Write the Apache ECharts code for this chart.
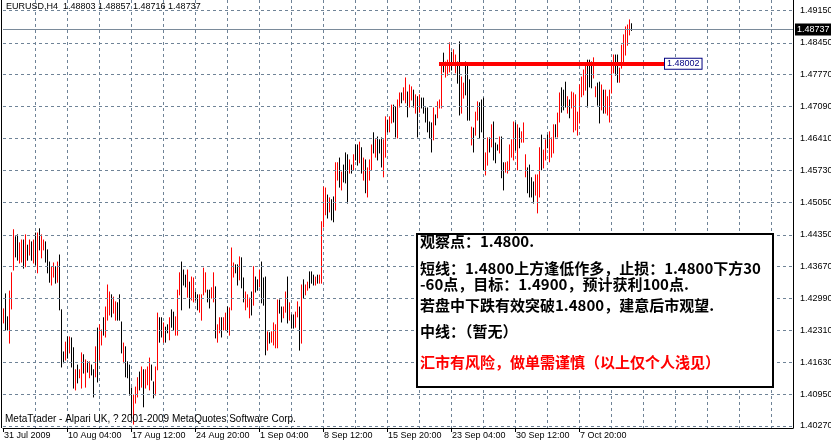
<!DOCTYPE html>
<html><head><meta charset="utf-8">
<script src="https://cdn.jsdelivr.net/npm/echarts@6/dist/echarts.min.js"></script>
<style>html,body{margin:0;padding:0;background:#fff}#c{width:831px;height:445px}</style>
</head><body><div id="c"></div>
<script>
// ---- data (EURUSD H4) ----
const highs = [
1.4277,1.4309,1.4260,1.4315,1.4354,1.4446,1.4431,1.4435,1.4418,1.4424,
1.4424,1.4435,1.4413,1.4424,1.4420,1.4424,1.4439,1.4439,1.4448,1.4435,
1.4424,1.4420,1.4403,1.4377,1.4367,1.4375,1.4367,1.4377,1.4392,1.4275,
1.4185,1.4206,1.4217,1.4217,1.4215,1.4194,1.4147,1.4157,1.4147,1.4183,
1.4179,1.4168,1.4164,1.4164,1.4157,1.4147,1.4196,1.4236,1.4243,1.4232,
1.4258,1.4281,1.4328,1.4313,1.4307,1.4302,1.4292,1.4290,1.4307,1.4249,
1.4204,1.4196,1.4164,1.4157,1.4108,1.4093,1.4110,1.4130,1.4142,1.4153,
1.4147,1.4147,1.4153,1.4172,1.4157,1.4121,1.4153,1.4268,1.4258,1.4258,
1.4247,1.4238,1.4243,1.4258,1.4275,1.4270,1.4260,1.4317,1.4354,1.4377,
1.4360,1.4349,1.4360,1.4334,1.4345,1.4343,1.4313,1.4307,1.4307,1.4307,
1.4364,1.4354,1.4317,1.4317,1.4322,1.4354,1.4324,1.4243,1.4258,1.4258,
1.4258,1.4268,1.4281,1.4279,1.4407,1.4375,1.4371,1.4371,1.4388,1.4386,
1.4343,1.4313,1.4307,1.4300,1.4313,1.4367,1.4345,1.4339,1.4360,1.4377,
1.4343,1.4345,1.4228,1.4226,1.4228,1.4247,1.4243,1.4296,1.4296,1.4281,
1.4281,1.4313,1.4345,1.4290,1.4264,1.4264,1.4270,1.4292,1.4281,1.4328,
1.4339,1.4328,1.4334,1.4356,1.4356,1.4349,1.4345,1.4349,1.4349,1.4463,
1.4537,1.4535,1.4520,1.4514,1.4510,1.4516,1.4589,1.4589,1.4599,1.4569,
1.4584,1.4610,1.4606,1.4595,1.4584,1.4606,1.4627,1.4627,1.4633,1.4621,
1.4599,1.4595,1.4578,1.4595,1.4627,1.4653,1.4638,1.4644,1.4638,1.4642,
1.4638,1.4687,1.4680,1.4687,1.4712,1.4712,1.4708,1.4723,1.4738,1.4738,
1.4749,1.4770,1.4740,1.4755,1.4751,1.4744,1.4734,1.4730,1.4734,1.4727,
1.4727,1.4706,1.4706,1.4676,1.4674,1.4706,1.4691,1.4719,1.4723,1.4802,
1.4823,1.4804,1.4808,1.4845,1.4825,1.4830,1.4819,1.4804,1.4847,1.4772,
1.4759,1.4804,1.4802,1.4766,1.4665,1.4663,1.4697,1.4719,1.4717,1.4723,
1.4727,1.4610,1.4642,1.4642,1.4670,1.4676,1.4631,1.4627,1.4644,1.4644,
1.4589,1.4589,1.4591,1.4627,1.4638,1.4676,1.4674,1.4670,1.4663,1.4655,
1.4674,1.4606,1.4578,1.4584,1.4557,1.4548,1.4563,1.4563,1.4621,1.4648,
1.4616,1.4638,1.4648,1.4655,1.4642,1.4670,1.4670,1.4695,1.4738,1.4749,
1.4744,1.4761,1.4730,1.4723,1.4740,1.4738,1.4734,1.4697,1.4755,1.4772,
1.4787,1.4798,1.4808,1.4808,1.4804,1.4813,1.4751,1.4759,1.4761,1.4755,
1.4744,1.4744,1.4730,1.4744,1.4798,1.4819,1.4819,1.4819,1.4791,1.4840,
1.4862,1.4879,1.4883,1.4894,1.48857
];
const lows = [
1.4247,1.4232,1.4232,1.4204,1.4277,1.4360,1.4388,1.4381,1.4375,1.4377,
1.4364,1.4367,1.4381,1.4392,1.4381,1.4375,1.4371,1.4354,1.4403,1.4386,
1.4403,1.4377,1.4354,1.4334,1.4328,1.4345,1.4332,1.4334,1.4275,1.4153,
1.4162,1.4168,1.4172,1.4183,1.4153,1.4108,1.4104,1.4119,1.4130,1.4108,
1.4140,1.4110,1.4142,1.4130,1.4136,1.4089,1.4132,1.4121,1.4168,1.4200,
1.4221,1.4217,1.4253,1.4264,1.4260,1.4268,1.4253,1.4253,1.4253,1.4183,
1.4162,1.4132,1.4130,1.4093,1.4044,1.4031,1.4076,1.4089,1.4104,1.4110,
1.4068,1.4108,1.4115,1.4104,1.4125,1.4087,1.4093,1.4147,1.4206,1.4217,
1.4206,1.4206,1.4226,1.4211,1.4238,1.4232,1.4221,1.4221,1.4307,1.4275,
1.4328,1.4324,1.4302,1.4279,1.4296,1.4292,1.4296,1.4275,1.4270,1.4253,
1.4307,1.4313,1.4292,1.4279,1.4300,1.4292,1.4215,1.4206,1.4226,1.4217,
1.4232,1.4232,1.4228,1.4221,1.4275,1.4345,1.4354,1.4328,1.4339,1.4322,
1.4292,1.4275,1.4281,1.4258,1.4264,1.4285,1.4313,1.4317,1.4324,1.4290,
1.4285,1.4179,1.4189,1.4204,1.4206,1.4200,1.4194,1.4194,1.4268,1.4249,
1.4258,1.4270,1.4247,1.4253,1.4236,1.4236,1.4238,1.4260,1.4189,1.4204,
1.4300,1.4307,1.4317,1.4322,1.4332,1.4328,1.4328,1.4332,1.4332,1.4332,
1.4452,1.4478,1.4471,1.4484,1.4467,1.4463,1.4488,1.4552,1.4537,1.4531,
1.4548,1.4546,1.4503,1.4567,1.4567,1.4574,1.4595,1.4584,1.4589,1.4567,
1.4552,1.4525,1.4516,1.4552,1.4574,1.4610,1.4601,1.4595,1.4610,1.4580,
1.4559,1.4601,1.4655,1.4655,1.4674,1.4676,1.4644,1.4642,1.4708,1.4717,
1.4723,1.4717,1.4687,1.4708,1.4723,1.4708,1.4695,1.4644,1.4697,1.4706,
1.4695,1.4676,1.4655,1.4642,1.4612,1.4638,1.4670,1.4685,1.4706,1.4706,
1.4783,1.4772,1.4776,1.4783,1.4787,1.4798,1.4781,1.4759,1.4691,1.4695,
1.4727,1.4734,1.4680,1.4680,1.4627,1.4612,1.4648,1.4680,1.4642,1.4655,
1.4574,1.4563,1.4584,1.4612,1.4623,1.4595,1.4589,1.4616,1.4610,1.4557,
1.4531,1.4569,1.4567,1.4574,1.4601,1.4595,1.4616,1.4574,1.4621,1.4633,
1.4633,1.4559,1.4525,1.4516,1.4516,1.4503,1.4520,1.4482,1.4516,1.4574,
1.4578,1.4595,1.4621,1.4591,1.4601,1.4610,1.4644,1.4644,1.4676,1.4697,
1.4702,1.4708,1.4695,1.4685,1.4706,1.4655,1.4659,1.4648,1.4674,1.4730,
1.4734,1.4744,1.4708,1.4751,1.4749,1.4770,1.4730,1.4712,1.4674,1.4702,
1.4695,1.4695,1.4691,1.4676,1.4738,1.4781,1.4776,1.4761,1.4761,1.4791,
1.4804,1.4819,1.4840,1.4862,1.48716
];
// r = red (up) bar, k = black (down) bar
const barColours = ('rkkrrrkkrr' + 'krkrkrkrkr' + 'rkkkrrkrkk' + 'krkrkkrkrr' + 'krkrkkrkrr' +
  'krrrkrrkkk' + 'rkkkkrrrkr' + 'krrrkkrrkk' + 'rkkrkkrrrk' + 'kkrkrrkkrr' +
  'rrkkrrkrrk' + 'rrkrrrkkrk' + 'krrrkrkkrk' + 'kkrkrrrrkk' + 'rrkrkkrrkr' +
  'krrkkkrkrr' + 'rrkrkkrrkr' + 'kkkrkrkkrk' + 'rkrrrkrkkk' + 'rrkrrkkrrk' +
  'rrkrrkrkrk' + 'kkkkkrkrrr' + 'krrrkrrkkr' + 'rkkkrkrrkk' + 'krrkrkkkrk' +
  'krrrrrkrkr' + 'rrkkkkrrrk' + 'rrkrrrkrrk' + 'kkrkrrrrrr' + 'rrkkkrrkkr' +
  'krrrrrkkrr' + 'rrrrk').split('');
const yTickValues = [1.49150,1.48450,1.47770,1.47090,1.46410,1.45730,1.45050,1.44350,1.43670,1.42990,1.42310,1.41630,1.40950,1.40270];
const xTickLabels = ['31 Jul 2009','10 Aug 04:00','17 Aug 12:00','24 Aug 20:00','1 Sep 04:00','8 Sep 12:00','15 Sep 20:00','23 Sep 04:00','30 Sep 12:00','7 Oct 20:00'];
const lastPrice = 1.48737;
const levelPrice = 1.48002;
const levelFromTo = [218, 331];
const headerText = 'EURUSD,H4  1.48803 1.48857 1.48716 1.48737';
const footerText = 'MetaTrader - Alpari UK, ? 2001-2009 MetaQuotes Software Corp.';
const noteLines = [
  '观察点：1.4800.',
  '短线：1.4800上方逢低作多，止损：1.4800下方30',
  '-60点，目标：1.4900，预计获利100点.',
  '若盘中下跌有效突破1.4800，建意后市观望.',
  '中线：（暂无）',
  '汇市有风险，做单需谨慎（以上仅个人浅见）'
];
const noteColours = ['#000','#000','#000','#000','#000','#ff0000'];

// ---- chart ----
const slotCount = 396;
const slots = Array.from({length: slotCount}, (_, i) => String(i));
const barData = highs.map((h, i) => [i, h, lows[i], barColours[i] === 'r' ? 1 : 0]);
const gridColor = '#6f8397';
const FONT = '"Liberation Sans", Arial, sans-serif';
const noteY = [241, 268, 284, 305, 331, 362];

const chart = echarts.init(document.getElementById('c'), null, {renderer: 'canvas'});
chart.setOption({
  animation: false,
  backgroundColor: '#ffffff',
  grid: {left: 3, right: 38, top: 0, bottom: 17, containLabel: false},
  xAxis: {
    type: 'category', data: slots, boundaryGap: false,
    axisLine: {show: true, lineStyle: {color: '#000', width: 1}},
    axisTick: {show: true, length: 4, interval: (i) => i % 32 === 0 && i / 32 < xTickLabels.length, lineStyle: {color: '#000'}},
    axisLabel: {
      show: true, interval: (i) => i % 32 === 0 && i / 32 < xTickLabels.length,
      formatter: (v, i) => xTickLabels[i / 32] || '',
      align: 'left', margin: 3, padding: [0, 0, 0, 1],
      color: '#000', fontSize: 9, fontFamily: FONT
    },
    splitLine: {show: true, interval: (i) => i > 0 && i % 16 === 0, lineStyle: {color: gridColor, type: [3, 3], width: 1}}
  },
  yAxis: {
    type: 'value', position: 'right', min: 1.40227, max: 1.49365, scale: true,
    axisLine: {show: true, lineStyle: {color: '#000', width: 1}},
    axisTick: {show: false}, axisLabel: {show: false}, splitLine: {show: false}
  },
  graphic: [
    {type: 'line', shape: {x1: 1.5, y1: 0, x2: 1.5, y2: 428}, style: {stroke: '#000', lineWidth: 1}, z: 50},
    {type: 'text', left: 6, top: 2, style: {text: headerText, fill: '#000', font: '9px ' + FONT}, z: 50},
    {type: 'text', left: 5, top: 414, style: {text: footerText, fill: '#000', font: '10px ' + FONT}, z: 50},
    {type: 'rect', shape: {x: 417, y: 234, width: 356, height: 153}, style: {fill: '#fff', stroke: '#000', lineWidth: 2}, z: 60},
    ...noteLines.map((t, k) => ({
      type: 'text', x: 420, y: noteY[k], z: 61,
      style: {text: t, fill: noteColours[k], font: 'bold 15px "Noto Sans CJK SC", sans-serif', verticalAlign: 'middle'}
    }))
  ],
  series: [
    {
      type: 'custom', name: 'bars', data: barData, z: 3,
      renderItem: (params, api) => {
        const i = api.value(0);
        const top = api.coord([i, api.value(1)]);
        const bot = api.coord([i, api.value(2)]);
        const x = Math.round(top[0]) + 0.5;
        return {type: 'line', shape: {x1: x, y1: top[1] - 0.5, x2: x, y2: bot[1] + 0.5},
          style: {stroke: api.value(3) ? '#ff0000' : '#000000', lineWidth: 1}};
      }
    },
    {
      type: 'line', name: 'grid', data: [], silent: true, z: 1,
      markLine: {
        silent: true, symbol: ['none', 'none'], animation: false, precision: 5,
        lineStyle: {color: gridColor, type: [3, 3], width: 1},
        label: {show: true, position: 'end', distance: 7, color: '#000', fontSize: 9, fontFamily: FONT,
          formatter: (p) => Number(p.value).toFixed(5)},
        data: yTickValues.map(v => ({yAxis: v}))
      }
    },
    {
      type: 'line', name: 'last', data: [], silent: true, z: 2,
      markLine: {
        silent: true, symbol: ['none', 'none'], animation: false, precision: 5,
        lineStyle: {color: '#7a8a9a', type: 'solid', width: 1},
        label: {show: true, position: 'end', distance: 2, color: '#fff', backgroundColor: '#000',
          padding: [2, 2, 1, 2], fontSize: 9, fontFamily: FONT, formatter: (p) => Number(p.value).toFixed(5)},
        data: [{yAxis: lastPrice}]
      }
    },
    {
      type: 'line', name: 'level', data: [], silent: true, z: 10,
      markLine: {
        silent: true, symbol: ['none', 'none'], animation: false, precision: 5,
        lineStyle: {color: '#ff0000', type: 'solid', width: 4},
        label: {show: true, position: 'end', distance: 0, color: '#000080', backgroundColor: '#fff',
          borderColor: '#000080', borderWidth: 1, padding: [1, 2, 0, 2], fontSize: 9, fontFamily: FONT,
          formatter: () => levelPrice.toFixed(5)},
        data: [[{coord: [levelFromTo[0], levelPrice]}, {coord: [levelFromTo[1], levelPrice]}]]
      }
    }
  ]
});
</script></body></html>
